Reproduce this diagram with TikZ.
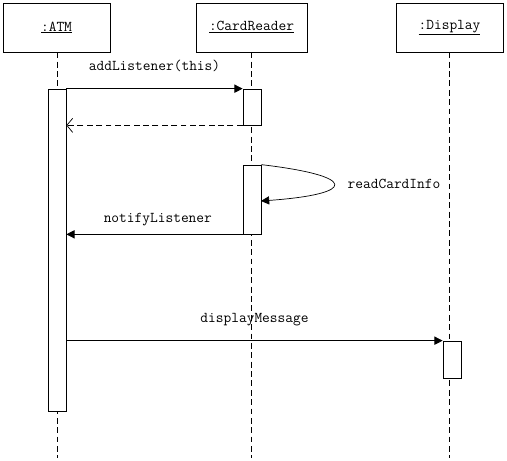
\documentclass[tikz,border=0pt]{standalone}
\usepackage{tikz}
\usetikzlibrary{arrows.meta}
\usetikzlibrary{positioning}

\tikzset{
	objbox/.style={draw,line width=0.6pt,minimum height=1.47cm,inner sep=0pt,font=\fontsize{12.8}{14}\ttfamily},
	actbox/.style={draw,fill=white,line width=0.6pt,minimum width=0.54cm,inner sep=0pt},
	lifeline/.style={line width=0.6pt,dash pattern=on 5pt off 3pt},
	msg/.style={line width=0.6pt,-{Triangle[length=7pt,width=7pt]}},
	ret/.style={line width=0.6pt,dash pattern=on 5pt off 3pt,-{Straight Barb[length=5pt,width=12pt]}},
	lbl/.style={font=\fontsize{12.8}{14}\ttfamily,inner sep=1pt}
}

\begin{document}
\begin{tikzpicture}[x=0.03cm,y=-0.03cm]
	\useasboundingbox (0,0) rectangle (507,461);
	% objects
	\node[objbox,minimum width=3.21cm] (atm) at (56.5,27.5) {\underline{:ATM}};
	\node[objbox,minimum width=3.33cm] (reader) at (251.5,27.5) {\underline{:CardReader}};
	\node[objbox,minimum width=3.21cm] (display) at (449.5,27.5) {\underline{:Display}};
	% lifelines
	\coordinate (atmend) at (57,458);
	\coordinate (readerend) at (251,458);
	\coordinate (displayend) at (449,458);
	\draw[lifeline] (atm.south -| atmend) -- (atmend);
	\draw[lifeline] (reader.south -| readerend) -- (readerend);
	\draw[lifeline] (display.south -| displayend) -- (displayend);
	% activations
	\node[actbox,minimum height=9.66cm] (atmact) at (57,250) {};
	\node[actbox,minimum height=1.08cm] (readact) at (252,107) {};
	\node[actbox,minimum height=2.07cm] (infoact) at (252,199.5) {};
	\node[actbox,minimum height=1.11cm] (dispact) at (452,359.5) {};
	% messages
	\draw[msg] (atmact.east |- readact.north) -- (readact.north west) node[lbl,midway,above,yshift=0.45cm] {addListener(this)};
	\draw[ret] (readact.south west) -- (atmact.east |- readact.south);
	\coordinate (loop) at (261,201);
	\draw[msg] (infoact.north east) .. controls (358,176) and (358,194) .. (loop);
	\node[lbl] (info) at (394,184) {readCardInfo};
	\draw[msg] (infoact.south west) -- (atmact.east |- infoact.south) node[lbl,midway,above,xshift=0.1cm,yshift=0.2cm] {notifyListener};
	\draw[msg] (atmact.east |- dispact.north) -- (dispact.north west) node[lbl,midway,above,yshift=0.4cm] {displayMessage};
\end{tikzpicture}
\end{document}
